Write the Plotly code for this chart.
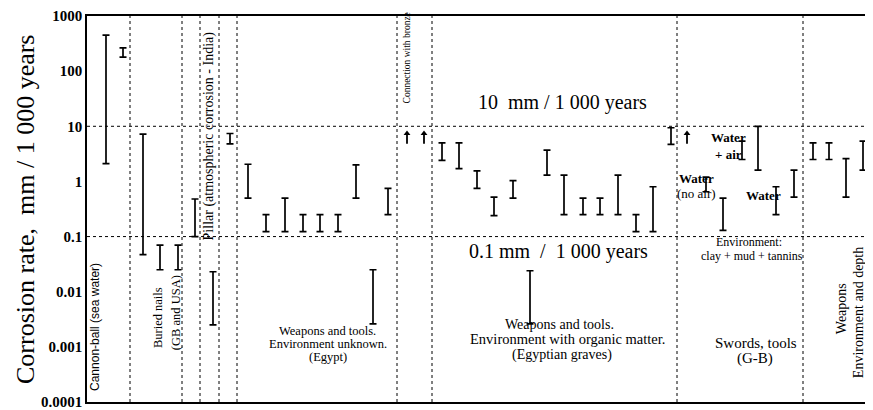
import plotly.graph_objects as go

# ---------------- data ----------------
# horizontal slot of each range bar (left to right) and its min / max corrosion rate
bar_slot = [106, 123, 143, 160, 178, 195, 213, 230, 248, 266, 285, 303, 320, 338,
            356, 373, 388, 442, 459, 477, 494, 513, 530, 547, 564, 583, 600, 618,
            636, 653, 671, 706, 723, 742, 758, 776, 794, 813, 829, 846, 863]
bar_low = [2.1, 180, 0.047, 0.025, 0.025, 0.1, 0.0025, 4.8, 0.5, 0.123, 0.123, 0.123, 0.123, 0.123,
           0.5, 0.0026, 0.25, 2.4, 1.7, 0.75, 0.24, 0.5, 0.0026, 1.3, 0.25, 0.25, 0.25, 0.25,
           0.123, 0.123, 4.7, 0.65, 0.13, 2.5, 1.6, 0.25, 0.52, 2.5, 2.5, 0.52, 1.6]
bar_high = [450, 265, 7.2, 0.07, 0.07, 0.48, 0.023, 7.4, 2.05, 0.25, 0.5, 0.25, 0.25, 0.25,
            2.0, 0.025, 0.75, 5.0, 5.0, 1.55, 0.52, 1.03, 0.024, 3.7, 1.3, 0.5, 0.5, 1.3,
            0.25, 0.8, 9.4, 1.2, 0.5, 5.4, 10, 0.8, 1.6, 5.0, 5.0, 2.6, 5.4]

# lower-bound values (arrows pointing up)
arrow_slot = [407, 424, 687]
arrow_low = [4.8, 4.8, 4.8]
arrow_high = [7.4, 7.4, 7.4]

# group separators and reference rates
separator_slot = [130, 182, 200, 219, 237, 397, 432, 677, 803]
reference_rates = [10, 0.1]

tick_values = [1e-4, 1e-3, 1e-2, 1e-1, 1, 10, 100, 1000]
tick_labels = ["0.0001", "0.001", "0.01", "0.1", "1", "10", "100", "1000"]

# ---------------- figure ----------------
SERIF = "Liberation Serif"
SANS = "Liberation Sans"

# the page body has an 8 px margin; the figure is sized so that it ends at the window edge
PAGE_OFFSET = 8
WIN_W, WIN_H = 873, 410

fig = go.Figure()

fig.add_trace(go.Scatter(
    x=bar_slot, y=bar_low, mode="markers",
    marker=dict(size=1, color="rgba(0,0,0,0)"),
    error_y=dict(type="data", symmetric=False,
                 array=[h - l for h, l in zip(bar_high, bar_low)],
                 arrayminus=[0] * len(bar_low),
                 width=3.5, thickness=1.7, color="black"),
    hoverinfo="skip", showlegend=False))

fig.add_trace(go.Scatter(
    x=arrow_slot, y=arrow_low, mode="markers",
    marker=dict(size=1, color="rgba(0,0,0,0)"),
    error_y=dict(type="data", symmetric=False,
                 array=[h - l for h, l in zip(arrow_high, arrow_low)],
                 arrayminus=[0] * len(arrow_low),
                 width=0, thickness=1.8, color="black"),
    hoverinfo="skip", showlegend=False))

fig.add_trace(go.Scatter(
    x=arrow_slot, y=arrow_high, mode="markers",
    marker=dict(symbol="triangle-up", size=6, color="black"),
    hoverinfo="skip", showlegend=False))

for sx in separator_slot:
    fig.add_shape(type="line", xref="x", yref="paper", x0=sx, x1=sx, y0=0, y1=1,
                  line=dict(color="black", width=1, dash="dot"))
for r in reference_rates:
    fig.add_shape(type="line", xref="paper", yref="y", x0=0, x1=1, y0=r, y1=r,
                  line=dict(color="black", width=1, dash="dot"))

# window row -> log10 value (plot spans 1e3 at top to 1e-4 at bottom)
TOP, BOTTOM, LEFT = 15, 406, 87
def ly(py):
    return 3 - 7 * (py - TOP) / (BOTTOM - TOP)

def ann(text, x, py, size, angle=0, family=SERIF):
    fig.add_annotation(text=text, x=x, y=ly(py), xref="x", yref="y",
                       showarrow=False, textangle=angle,
                       font=dict(family=family, size=size, color="black"),
                       xanchor="center", yanchor="middle")

ann("Cannon-ball (sea water)", 95, 330, 12, -90, SANS)
ann("Buried nails", 158, 321, 12.5, -90)
ann("(GB and USA)", 176, 316, 12.5, -90)
ann("Pillar (atmospheric corrosion - India)", 209, 137, 14, -90)
ann("Connection with bronze", 407, 58, 9.5, -90)
ann("10  mm / 1 000 years", 562, 103, 20)
ann("0.1 mm  /  1 000 years", 558, 254, 20)

ann("Weapons and tools.", 327, 334.5, 12.5)
ann("Environment unknown.", 328, 347.5, 12.5)
ann("(Egypt)", 328, 360.5, 12.5)

ann("Weapons and tools.", 559, 327.5, 14)
ann("Environment with organic matter.", 567, 342.5, 14.5)
ann("(Egyptian graves)", 562, 358, 14)

ann("<b>Water</b>", 728, 138, 13)
ann("<b>+ air</b>", 728, 155, 13)
ann("<b>Water</b>", 696, 180, 13)
ann("(no air)", 696, 194.5, 13)
ann("<b>Water</b>", 763, 197, 13)
ann("Environment:", 749, 244, 12)
ann("clay + mud + tannins", 752, 258, 12)
ann("Swords, tools", 756, 346, 15)
ann("(G-B)", 755, 362, 15)

ann("Weapons", 841, 312, 14, -90)
ann("Environment and depth", 858, 316, 14, -90)
ann("unknown", 871, 316, 14, -90)

# y-axis title
fig.add_annotation(text="Corrosion rate,  mm / 1 000 years", xref="paper", yref="paper",
                   x=0, y=0.5, xshift=25 - LEFT, showarrow=False, textangle=-90,
                   xanchor="center", yanchor="middle",
                   font=dict(family=SERIF, size=26, color="black"))

fig.update_layout(
    width=WIN_W - PAGE_OFFSET, height=WIN_H - PAGE_OFFSET,
    margin=dict(l=LEFT - PAGE_OFFSET, r=0, t=TOP - PAGE_OFFSET, b=WIN_H - BOTTOM, pad=0),
    paper_bgcolor="white", plot_bgcolor="white",
    showlegend=False,
    xaxis=dict(range=[LEFT, WIN_W], showgrid=False, zeroline=False, showticklabels=False,
               ticks="", showline=True, mirror=True, linecolor="black", linewidth=2),
    yaxis=dict(type="log", range=[-4, 3], showgrid=False, zeroline=False,
               tickvals=tick_values, ticktext=["<b>%s</b>" % t for t in tick_labels], ticks="",
               ticklabeloverflow="allow",
               tickfont=dict(family=SERIF, size=15, color="black"),
               showline=True, linecolor="black", linewidth=1.5),
)

fig.write_html("out.html")
